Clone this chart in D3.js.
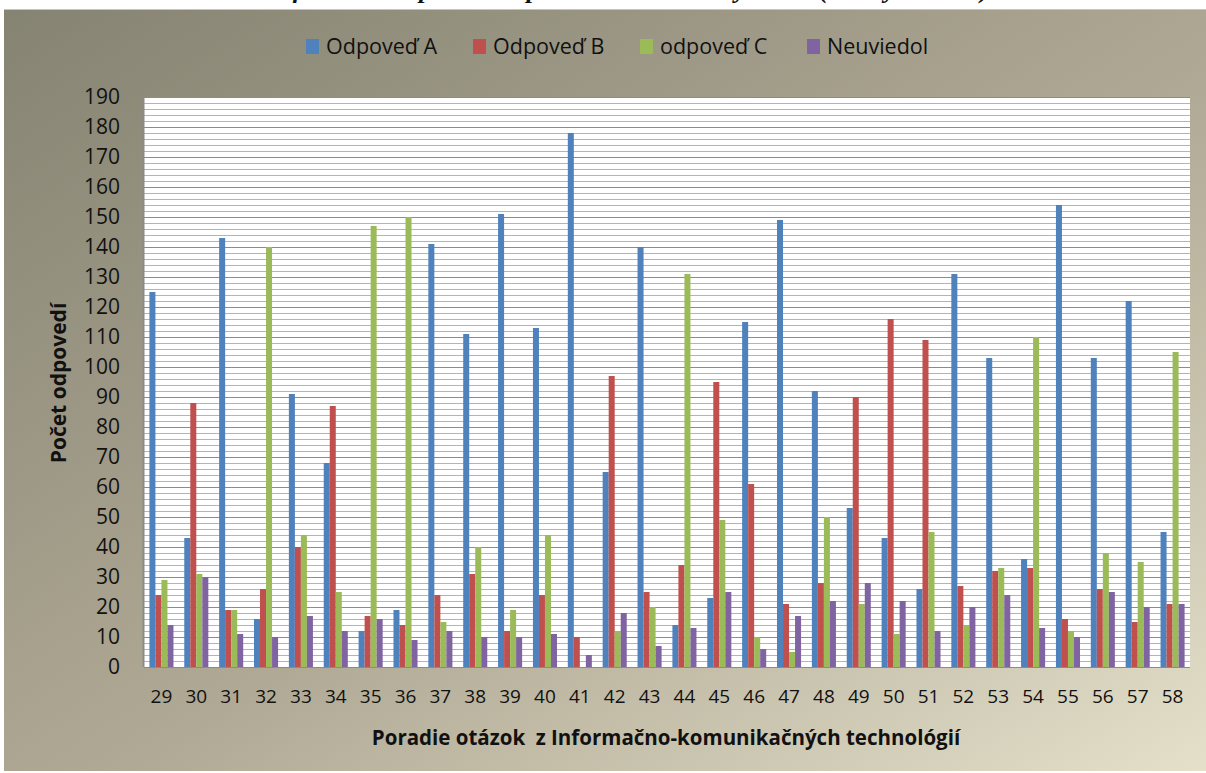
<!DOCTYPE html>
<meta charset='utf-8'>
<title>Počet odpovedí</title>
<style>
body {
  margin: 0;
  background-color: #fff;
}
text {
  font-family: "Open Sans", "DejaVu Sans", sans-serif;
  fill: #111;
}
</style>
<svg width="1206" height="773"></svg>
<script src="https://d3js.org/d3.v7.min.js"></script>
<script>

// questions 29..58
var categories = ["29","30","31","32","33","34","35","36","37","38","39","40","41","42","43",
                  "44","45","46","47","48","49","50","51","52","53","54","55","56","57","58"];

var seriesNames = ["Odpoveď A", "Odpoveď B", "odpoveď C", "Neuviedol"];
var seriesColors = ["#4f81bd", "#c0504d", "#9bbb59", "#8064a2"];

var answerA = [125, 43, 143, 16, 91, 68, 12, 19, 141, 111, 151, 113, 178, 65, 140,
               14, 23, 115, 149, 92, 53, 43, 26, 131, 103, 36, 154, 103, 122, 45];
var answerB = [24, 88, 19, 26, 40, 87, 17, 14, 24, 31, 12, 24, 10, 97, 25,
               34, 95, 61, 21, 28, 90, 116, 109, 27, 32, 33, 16, 26, 15, 21];
var answerC = [29, 31, 19, 140, 44, 25, 147, 150, 15, 40, 19, 44, 0, 12, 20,
               131, 49, 10, 5, 50, 21, 11, 45, 14, 33, 110, 12, 38, 35, 105];
var noAnswer = [14, 30, 11, 10, 17, 12, 16, 9, 12, 10, 10, 11, 4, 18, 7,
                13, 25, 6, 17, 22, 28, 22, 12, 20, 24, 13, 10, 25, 20, 21];

var yTicks = d3.range(0, 191, 10);

var allSeries = [answerA, answerB, answerC, noAnswer];

var svg = d3.select("svg");
var W = 1206, H = 773;

var margin = {left: 144, right: 1190, top: 97, bottom: 667};

// background gradient of the chart area
var defs = svg.append("defs");
var grad = defs.append("linearGradient")
    .attr("id", "bg")
    .attr("x1", "0%").attr("y1", "0%")
    .attr("x2", "100%").attr("y2", "100%");
grad.append("stop").attr("offset", "0%").attr("stop-color", "#858372");
grad.append("stop").attr("offset", "55%").attr("stop-color", "#b0a995");
grad.append("stop").attr("offset", "100%").attr("stop-color", "#e4e0ca");

// title of the page above, only its lowest part shows
svg.append("text")
    .attr("x", 620)
    .attr("y", -2)
    .attr("text-anchor", "middle")
    .style("font-family", "'Liberation Serif', serif")
    .style("font-weight", "bold")
    .style("font-style", "italic")
    .style("font-size", "26px")
    .text("Graf 2 Počet odpovedí respondentov na otázky z IKT (otázky 29 – 58)");

svg.append("rect")
    .attr("x", 4).attr("y", 9)
    .attr("width", W - 4).attr("height", 762)
    .attr("fill", "url(#bg)");

svg.append("line")
    .attr("x1", 4).attr("x2", W)
    .attr("y1", 9.5).attr("y2", 9.5)
    .attr("stroke", "#c8c6bc");

var x0 = d3.scaleBand()
    .domain(categories)
    .range([margin.left, margin.right])
    .paddingInner(0.31)
    .paddingOuter(0.155);

var x1 = d3.scaleBand()
    .domain(d3.range(seriesNames.length))
    .range([0, x0.bandwidth()]);

var y = d3.scaleLinear()
    .domain([0, 190])
    .range([margin.bottom, margin.top]);

// plot area
svg.append("rect")
    .attr("x", margin.left).attr("y", margin.top)
    .attr("width", margin.right - margin.left)
    .attr("height", margin.bottom - margin.top)
    .attr("fill", "#fff");

// gridlines every 2
svg.append("g")
  .selectAll("line")
    .data(d3.range(2, 191, 2))
  .enter().append("line")
    .attr("x1", margin.left).attr("x2", margin.right)
    .attr("y1", function(d) { return Math.round(y(d)) + 0.5; })
    .attr("y2", function(d) { return Math.round(y(d)) + 0.5; })
    .attr("stroke", function(d) { return d % 10 === 0 ? "#8c8c8c" : "#b4b4b4"; })
    .attr("stroke-width", 1);

// bars
var groups = svg.append("g")
  .selectAll("g")
    .data(categories)
  .enter().append("g")
    .attr("transform", function(d) { return "translate(" + x0(d) + ",0)"; });

groups.selectAll("rect")
    .data(function(d, i) {
      return allSeries.map(function(s, k) { return {k: k, v: s[i]}; });
    })
  .enter().append("rect")
    .attr("x", function(d) { return x1(d.k); })
    .attr("width", x1.bandwidth())
    .attr("y", function(d) { return y(d.v); })
    .attr("height", function(d) { return y(0) - y(d.v); })
    .attr("fill", function(d) { return seriesColors[d.k]; });

// axes lines
svg.append("line")
    .attr("x1", margin.left - 0.5).attr("x2", margin.left - 0.5)
    .attr("y1", margin.top).attr("y2", margin.bottom)
    .attr("stroke", "#8a8a8a").attr("stroke-width", 2);
svg.append("line")
    .attr("x1", margin.left).attr("x2", margin.right)
    .attr("y1", margin.bottom + 0.5).attr("y2", margin.bottom + 0.5)
    .attr("stroke", "#8a8a8a").attr("stroke-width", 1);

// y axis labels
var yAxis = svg.append("g")
    .attr("transform", "translate(" + (margin.left - 24) + ",0)")
    .call(d3.axisLeft(y).tickValues(yTicks).tickSize(0).tickPadding(0));
yAxis.select(".domain").remove();
yAxis.selectAll("text")
    .style("font-family", "'Open Sans', sans-serif")
    .style("font-size", "21px")
    .attr("fill", "#111");

// x axis labels
var xAxis = svg.append("g")
    .attr("transform", "translate(0," + margin.bottom + ")")
    .call(d3.axisBottom(x0).tickSize(0).tickPadding(23));
xAxis.select(".domain").remove();
xAxis.selectAll("text")
    .style("font-family", "'Open Sans', sans-serif")
    .style("font-size", "19px")
    .attr("fill", "#111");

// axis titles
svg.append("text")
    .attr("x", 666)
    .attr("y", 745)
    .attr("text-anchor", "middle")
    .style("font-size", "20.5px")
    .style("font-weight", "bold")
    .style("white-space", "pre")
    .text("Poradie otázok  z Informačno-komunikačných technológií");

svg.append("text")
    .attr("transform", "translate(66,383) rotate(-90)")
    .attr("text-anchor", "middle")
    .style("font-size", "21px")
    .style("font-weight", "bold")
    .text("Počet odpovedí");

// legend
var legend = svg.append("g")
  .selectAll("g")
    .data(seriesNames)
  .enter().append("g")
    .attr("transform", function(d, i) { return "translate(" + (306 + i * 167) + ",39)"; });

legend.append("rect")
    .attr("width", 13).attr("height", 15)
    .attr("fill", function(d, i) { return seriesColors[i]; });

legend.append("text")
    .attr("x", 20)
    .attr("y", 15)
    .style("font-size", "21.5px")
    .text(function(d) { return d; });

</script>
